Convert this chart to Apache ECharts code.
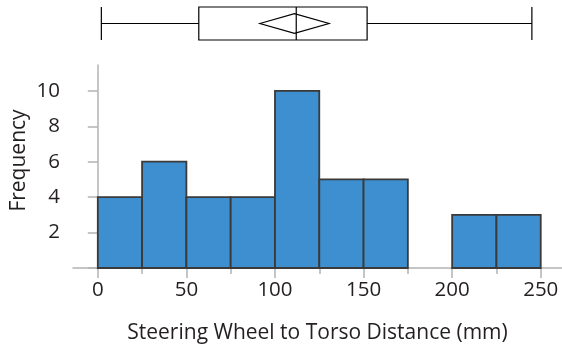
<!DOCTYPE html>
<html><head><meta charset="utf-8">
<script src="https://cdn.jsdelivr.net/npm/echarts@6/dist/echarts.min.js"></script>
<style>html,body{margin:0;padding:0;background:#fff}#c{width:562px;height:346px}</style>
</head><body><div id="c"></div>
<script>
// Histogram bins (mm) and frequencies
var binStart = [0, 25, 50, 75, 100, 125, 150, 175, 200, 225];
var binEnd   = [25, 50, 75, 100, 125, 150, 175, 200, 225, 250];
var counts   = [4, 6, 4, 4, 10, 5, 5, 0, 3, 3];
// Box plot summary: min, Q1, median, Q3, max
var boxStats = [2, 57, 112, 152, 245];
// Mean with confidence interval (diamond)
var meanCI = [91.5, 111, 130.5];
// Tick labels
var xLabels = [0, 50, 100, 150, 200, 250];
var xMinorTicks = [25, 75, 125, 175, 225];
var yLabels = [2, 4, 6, 8, 10];
var yTicks = [0, 2, 4, 6, 8, 10];

var FONT = 'Open Sans';
var TXT = '#231f20';
var AX = '#b3b3b3';

var histData = [];
for (var i = 0; i < counts.length; i++) {
  if (counts[i] > 0) histData.push([binStart[i], binEnd[i], counts[i]]);
}

var chart = echarts.init(document.getElementById('c'), null, {renderer: 'canvas'});
chart.setOption({
  animation: false,
  textStyle: {fontFamily: FONT},
  grid: [
    {left: 73, right: 0, top: 65, bottom: 78, containLabel: false, outerBoundsMode: 'none'},
    {left: 73, right: 0, top: 0, height: 47, containLabel: false, outerBoundsMode: 'none'}
  ],
  xAxis: [
    {
      gridIndex: 0, type: 'value', min: -14, max: 262, position: 'bottom',
      axisLine: {show: true, lineStyle: {color: AX, width: 1.5}},
      axisTick: {show: true, length: 10, customValues: xLabels, lineStyle: {color: AX, width: 1.5}},
      axisLabel: {customValues: xLabels, margin: 12, fontSize: 20.5, color: TXT, fontFamily: FONT},
      splitLine: {show: false},
      name: 'Steering Wheel to Torso Distance (mm)', nameLocation: 'middle', nameGap: 55,
      nameMoveOverlap: false,
      nameTextStyle: {fontSize: 21, color: TXT, fontFamily: FONT}
    },
    {
      gridIndex: 0, type: 'value', min: -14, max: 262, position: 'bottom',
      axisLine: {show: false},
      axisTick: {show: true, length: 6, customValues: xMinorTicks, lineStyle: {color: AX, width: 1.5}},
      axisLabel: {show: false},
      splitLine: {show: false}
    },
    {
      gridIndex: 1, type: 'value', min: -14, max: 262,
      show: false
    }
  ],
  yAxis: [
    {
      gridIndex: 0, type: 'value', min: 0, max: 11.46,
      axisLine: {show: true, lineStyle: {color: AX, width: 1.5}},
      axisTick: {show: true, length: 10, customValues: yTicks, lineStyle: {color: AX, width: 1.5}},
      axisLabel: {customValues: yLabels, margin: 13, fontSize: 20.5, color: TXT, fontFamily: FONT},
      splitLine: {show: false},
      name: 'Frequency', nameLocation: 'middle', nameGap: 43, nameRotate: 90,
      nameMoveOverlap: false,
      nameTextStyle: {fontSize: 21, color: TXT, fontFamily: FONT, padding: [0, 0, 0, 12]}
    },
    {
      gridIndex: 1, type: 'category', data: ['box'], show: false
    }
  ],
  series: [
    {
      type: 'custom', xAxisIndex: 0, yAxisIndex: 0,
      data: histData,
      renderItem: function (params, api) {
        var p0 = api.coord([api.value(0), api.value(2)]);
        var p1 = api.coord([api.value(1), 0]);
        return {
          type: 'rect',
          shape: {x: p0[0], y: p0[1], width: p1[0] - p0[0], height: p1[1] - p0[1]},
          style: {fill: '#3d8fcf', stroke: '#3a3a3a', lineWidth: 1.8}
        };
      }
    },
    {
      type: 'boxplot', xAxisIndex: 2, yAxisIndex: 1, layout: 'horizontal',
      boxWidth: [33, 33],
      data: [boxStats],
      itemStyle: {color: '#fff', borderColor: '#000', borderWidth: 1.2}
    },
    {
      type: 'custom', xAxisIndex: 2, yAxisIndex: 1,
      data: [meanCI],
      z: 10,
      renderItem: function (params, api) {
        var l = api.coord([api.value(0), 0]);
        var m = api.coord([api.value(1), 0]);
        var r = api.coord([api.value(2), 0]);
        var h = 9.8;
        return {
          type: 'polygon',
          shape: {points: [[l[0], m[1]], [m[0], m[1] - h], [r[0], m[1]], [m[0], m[1] + h]]},
          style: {fill: 'none', stroke: '#000', lineWidth: 1.2}
        };
      }
    }
  ]
});
</script>
</body></html>
